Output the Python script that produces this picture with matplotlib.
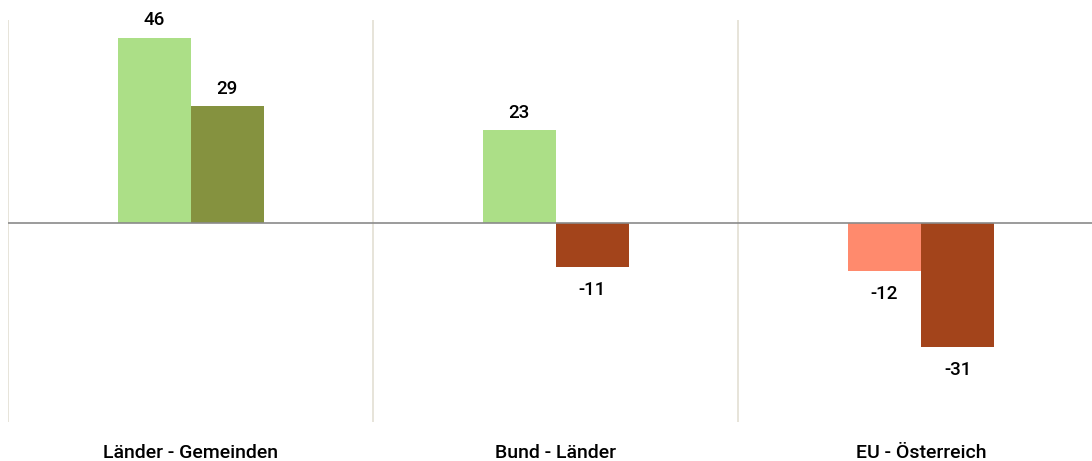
import matplotlib.pyplot as plt
import numpy as np

# Differences per level (two series)
categories = ["Länder - Gemeinden", "Bund - Länder", "EU - Österreich"]
series_a = [46, 23, -12]
series_b = [29, -11, -31]

# colours depend on series and sign
colors_a = {"pos": "#acdf87", "neg": "#ff8a6d"}
colors_b = {"pos": "#85923f", "neg": "#a3441b"}

plt.rcParams['font.family'] = ['Roboto', 'DejaVu Sans']

fig = plt.figure(figsize=(10.92, 4.61), dpi=100)
ax = fig.add_axes([8 / 1092, 39 / 461, 1084 / 1092, 402 / 461])

x = np.arange(len(categories))
w = 0.2

for vals, cols, off in [(series_a, colors_a, -w / 2), (series_b, colors_b, w / 2)]:
    c = [cols["pos"] if v >= 0 else cols["neg"] for v in vals]
    bars = ax.bar(x + off, vals, width=w, color=c, zorder=2)
    for b, v in zip(bars, vals):
        if v >= 0:
            ax.annotate(str(v), (b.get_x() + w / 2, v), xytext=(0, 6),
                        textcoords="offset points", ha="center", va="bottom",
                        fontsize=13.5, fontweight="medium")
        else:
            ax.annotate(str(v), (b.get_x() + w / 2, v), xytext=(0, -10),
                        textcoords="offset points", ha="center", va="top",
                        fontsize=13.5, fontweight="medium")

# category separators
for sep in [-0.5, 0.5, 1.5]:
    ax.axvline(sep, color="#e3dfd3", lw=1.2, zorder=0)
ax.axhline(0, color="#8a8a8a", lw=1.2, zorder=3)

ax.set_xlim(-0.5, 2.468)
ax.set_ylim(-49.6, 50.4)
ax.set_yticks([])
ax.set_xticks(x)
ax.set_xticklabels(categories, fontsize=14, fontweight="medium")
ax.tick_params(axis="x", length=0, pad=16)
for s in ax.spines.values():
    s.set_visible(False)

fig.savefig("out.png", dpi=100)
